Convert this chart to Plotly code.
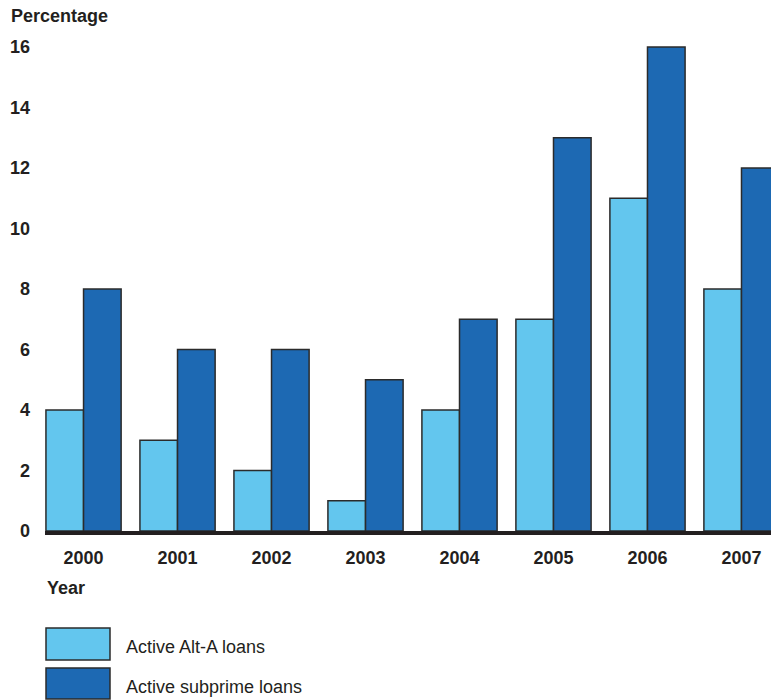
import plotly.graph_objects as go

years = ["2000", "2001", "2002", "2003", "2004", "2005", "2006", "2007"]
alt_a = [4, 3, 2, 1, 4, 7, 11, 8]
subprime = [8, 6, 6, 5, 7, 13, 16, 12]
series_names = ["Active Alt-A loans", "Active subprime loans"]
series_colors = ["#63C6EE", "#1D69B3"]
y_ticks = [0, 2, 4, 6, 8, 10, 12, 14, 16]

FONT = "Liberation Sans, Arial, Helvetica, sans-serif"
W, H = 771, 700
ML, MR, MT, MB = 45, 0, 32, 169
PW, PH = W - ML - MR, H - MT - MB


def px_x(px):
    return (px - ML) / PW


def px_y(py):
    return (H - MB - py) / PH


x_pos = list(range(len(years)))

fig = go.Figure()
for name, vals, color in zip(series_names, [alt_a, subprime], series_colors):
    fig.add_trace(go.Bar(
        x=x_pos, y=vals, name=name,
        marker=dict(color=color, line=dict(color="#2b2b2b", width=1.5)),
        showlegend=False,
    ))

fig.update_layout(
    width=W, height=H,
    margin=dict(l=ML, r=MR, t=MT, b=MB),
    paper_bgcolor="white", plot_bgcolor="white",
    barmode="group", bargap=0.2, bargroupgap=0,
    font=dict(family=FONT, color="#231f20"),
    xaxis=dict(
        tickmode="array", tickvals=x_pos, ticktext=[f"<b>{y}</b>" for y in years],
        range=[-0.41, 7.314], showgrid=False, zeroline=False,
        showline=True, linecolor="#231f20", linewidth=4,
        ticks="", ticklabelstandoff=7, tickfont=dict(size=18),
    ),
    yaxis=dict(
        tickmode="array", tickvals=y_ticks, ticktext=[f"<b>{t}</b>" for t in y_ticks],
        range=[0, 16.5], showgrid=False, zeroline=False, showline=False,
        ticks="", ticklabelstandoff=14, tickfont=dict(size=18),
    ),
)

# Axis titles
fig.add_annotation(x=px_x(9), y=px_y(16), xref="paper", yref="paper",
                   text="<b>Percentage</b>", showarrow=False, xanchor="left",
                   yanchor="middle", font=dict(size=18))
fig.add_annotation(x=px_x(45), y=px_y(588), xref="paper", yref="paper",
                   text="<b>Year</b>", showarrow=False, xanchor="left",
                   yanchor="middle", font=dict(size=18))

# Legend with large swatches
swatch_rows = [(628, 660), (668, 699)]
for name, color, (top, bottom) in zip(series_names, series_colors, swatch_rows):
    fig.add_shape(type="rect", xref="paper", yref="paper",
                  x0=px_x(46), x1=px_x(110), y0=px_y(bottom), y1=px_y(top),
                  fillcolor=color, line=dict(color="#2b2b2b", width=1.5))
    fig.add_annotation(xref="paper", yref="paper",
                       x=px_x(124), y=px_y((top + bottom) / 2 + 3),
                       text=name, showarrow=False, xanchor="left",
                       yanchor="middle", font=dict(size=18))

fig.write_html("out.html")
